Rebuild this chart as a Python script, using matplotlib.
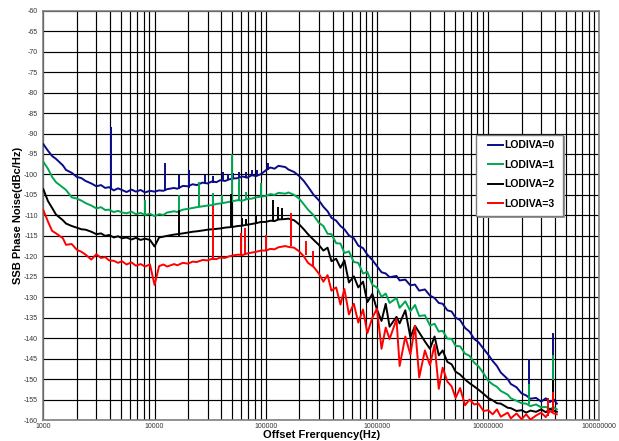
import numpy as np
import matplotlib.pyplot as plt
from matplotlib.patches import Rectangle
from matplotlib.ticker import LogLocator, NullFormatter

plt.rcParams['font.family'] = ['Liberation Sans', 'DejaVu Sans']
plt.rcParams['axes.unicode_minus'] = False

# measurement frequencies: E24 steps in each decade, last decade stops at the end of the sweep
mant = [1.0, 1.1, 1.2, 1.3, 1.5, 1.6, 1.8, 2.0, 2.2, 2.4, 2.7, 3.0,
        3.3, 3.6, 3.9, 4.3, 4.7, 5.1, 5.6, 6.2, 6.8, 7.5, 8.2, 9.1]
mant_last = [1.0, 1.1, 1.2, 1.3, 1.5, 1.6, 1.8, 2.0, 2.2, 2.4, 2.7, 3.0,
             3.3, 3.6, 3.9, 4.15]
freq = [m * 10 ** e for e in range(3, 7) for m in mant] + [m * 1e7 for m in mant_last]

# SSB phase noise, dBc/Hz
lodiva0 = [
    -92.6, -94.2, -95.5, -96.2, -97.8, -98.9, -99.6, -100.6, -100.9, -101.6, -102.2, -102.9,
    -102.6, -103.3, -103.1, -103.9, -103.4, -103.8, -104.3, -103.7, -104.2, -103.8, -104.4, -104.0,
    -104.2, -103.9, -104.0, -103.6, -103.3, -103.5, -102.8, -102.9, -102.4, -102.6, -102.0, -102.2,
    -101.7, -101.9, -101.4, -101.6, -101.2, -101.0, -100.9, -100.5, -100.8, -100.2, -100.4, -99.9,
    -99.0, -98.3, -98.6, -97.9, -98.2, -98.8, -99.4, -100.4, -101.6, -103.0, -105.0, -106.3,
    -107.9, -109.0, -110.6, -111.3, -112.6, -113.4, -114.9, -115.6, -117.4, -118.0, -119.6, -120.9,
    -122.4, -123.9, -124.2, -125.1, -124.8, -125.9, -125.7, -127.1, -126.9, -128.4, -128.1, -129.6,
    -130.2, -131.4, -131.6, -133.2, -133.5, -135.0, -135.6, -137.5, -138.4, -140.2, -141.0, -142.6,
    -144.0, -145.6, -146.8, -148.4, -150.0, -151.2, -152.0, -153.5, -154.0, -154.8, -154.6, -155.5,
    -154.7, -155.6, -155.0, -156.0,
]
lodiva1 = [
    -96.9, -98.6, -100.6, -101.9, -103.2, -103.8, -105.6, -105.9, -106.4, -107.0, -107.6, -108.3,
    -108.0, -108.7, -108.6, -109.2, -108.9, -109.3, -109.5, -109.1, -109.7, -109.4, -109.9, -109.6,
    -110.2, -109.7, -109.9, -109.3, -109.0, -109.2, -108.6, -108.4, -108.2, -108.0, -107.8, -107.6,
    -107.5, -107.2, -107.1, -106.9, -106.7, -106.5, -106.3, -106.4, -106.0, -105.9, -105.6, -105.4,
    -105.3, -104.8, -105.0, -104.5, -104.7, -104.4, -105.0, -105.9, -107.3, -108.6, -110.0, -111.8,
    -112.6, -114.5, -114.6, -116.8, -116.9, -119.2, -118.8, -121.4, -121.6, -124.2, -123.8, -127.0,
    -127.6, -129.9, -129.1, -131.4, -130.2, -132.6, -131.0, -133.4, -131.9, -134.6, -134.4, -136.9,
    -136.5, -138.4, -138.2, -140.1, -140.2, -141.9, -142.0, -143.8, -144.3, -146.0, -146.9, -148.6,
    -150.4, -151.3, -151.9, -152.9, -153.8, -154.7, -155.3, -155.9, -156.0, -156.6, -156.2, -156.9,
    -156.8, -157.3, -156.9, -157.4,
]
lodiva2 = [
    -103.6, -106.5, -108.2, -109.8, -111.2, -112.0, -112.6, -113.0, -113.4, -113.5, -114.0, -114.6,
    -114.4, -115.0, -114.8, -115.4, -115.1, -115.6, -115.4, -115.9, -115.5, -116.0, -115.7, -116.0,
    -117.6, -115.4, -115.2, -115.0, -114.7, -114.6, -114.4, -114.2, -114.0, -113.9, -113.7, -113.5,
    -113.4, -113.3, -113.2, -113.0, -112.9, -112.8, -112.6, -112.5, -112.3, -112.1, -111.9, -111.6,
    -111.6, -111.3, -111.4, -111.0, -110.9, -110.8, -111.2, -112.2, -113.4, -114.6, -116.0, -117.2,
    -118.6, -117.9, -121.2, -120.6, -122.8, -121.0, -126.4, -124.9, -127.6, -126.2, -131.2, -129.2,
    -133.0, -135.8, -131.6, -137.2, -134.8, -136.4, -133.2, -139.8, -137.0, -138.6, -140.8, -142.6,
    -139.6, -144.2, -143.0, -145.8, -146.4, -148.2, -148.9, -150.1, -151.0, -151.8, -152.6, -153.6,
    -154.6, -155.2, -155.9, -156.0, -157.0, -157.1, -157.8, -157.6, -158.2, -157.7, -158.0, -157.4,
    -158.1, -157.3, -157.7, -158.0,
]
lodiva3 = [
    -108.7, -111.5, -113.8, -114.4, -115.6, -117.2, -117.0, -118.4, -118.9, -119.6, -120.8, -119.5,
    -120.4, -120.2, -121.0, -121.1, -121.6, -121.2, -122.0, -121.5, -122.3, -121.9, -122.5, -122.0,
    -127.0, -122.4, -122.0, -122.5, -121.9, -122.2, -121.6, -121.8, -121.3, -121.4, -120.9, -121.0,
    -120.6, -120.7, -120.3, -120.4, -120.0, -119.8, -119.6, -119.7, -119.3, -119.1, -118.9, -118.6,
    -118.6, -118.2, -118.3, -117.8, -117.5, -117.7, -117.9, -118.8, -120.0, -121.6, -122.6, -124.2,
    -126.2, -124.6, -128.4, -127.6, -131.8, -128.0, -134.2, -131.6, -136.2, -133.0, -138.8, -135.0,
    -132.8, -142.6, -137.4, -140.2, -135.4, -146.8, -139.6, -144.0, -137.0, -149.6, -143.0, -146.6,
    -141.6, -152.4, -147.2, -150.6, -151.8, -154.6, -152.2, -156.4, -155.0, -156.2, -156.0, -157.8,
    -157.6, -158.6, -157.4, -159.2, -158.2, -159.6, -158.4, -159.8, -158.6, -159.9, -158.9, -158.2,
    -159.3, -157.8, -158.4, -158.6,
]

# discrete spurs: frequency (Hz), floor level, peak level (dBc/Hz)
spur0_f = [4100, 12300, 16500, 20600, 28300, 33500, 41200, 45500, 51000, 58000, 67000, 75000,
           83000, 104000, 23.5e6, 38.5e6]
spur0_lo = [-103.5, -104.0, -103.6, -103.3, -102.3, -102.0, -101.6, -101.4, -101.0, -100.9, -100.6,
            -100.4, -100.4, -98.8, -154.2, -155.2]
spur0_hi = [-88.5, -97.2, -100.2, -99.0, -100.1, -100.3, -99.3, -100.0, -99.6, -99.4, -99.5,
            -99.0, -98.9, -97.3, -145.0, -138.8]

spur1_f = [8270, 16700, 25000, 33300, 40500, 49700, 58000, 66500, 90000, 23.5e6, 38.5e6]
spur1_lo = [-109.6, -108.8, -108.0, -107.6, -107.2, -106.8, -106.6, -106.2, -105.6, -156.2, -157.1]
spur1_hi = [-106.3, -105.0, -101.8, -104.5, -105.1, -94.9, -101.0, -104.2, -102.1, -151.2, -144.1]

spur2_f = [16700, 49000, 61000, 67000, 82000, 116000, 130000, 139000, 38.5e6]
spur2_lo = [-115.0, -112.9, -112.4, -112.3, -111.9, -111.3, -111.0, -110.9, -157.5]
spur2_hi = [-108.7, -104.7, -110.7, -111.0, -110.2, -106.3, -107.9, -108.3, -150.2]

spur3_f = [33300, 59500, 64800, 100000, 168000, 232000, 268000, 34.5e6, 38.5e6]
spur3_lo = [-120.8, -119.8, -119.6, -118.6, -117.6, -119.8, -122.4, -158.9, -158.0]
spur3_hi = [-107.8, -114.3, -113.2, -114.8, -109.5, -116.3, -118.8, -154.7, -153.1]

labels = ['LODIVA=0', 'LODIVA=1', 'LODIVA=2', 'LODIVA=3']
colors = ['#0b0b8a', '#00a651', '#000000', '#ff0000']

x_ticks = [1e3, 1e4, 1e5, 1e6, 1e7, 1e8]
x_ticklabels = ['1000', '10000', '100000', '1000000', '10000000', '100000000']
y_ticks = list(range(-160, -55, 5))

fig = plt.figure(figsize=(6.19, 4.41), dpi=100)
ax = fig.add_axes([0.070, 0.0476, 0.8982, 0.9281])

traces = [
    (lodiva0, spur0_f, spur0_lo, spur0_hi),
    (lodiva1, spur1_f, spur1_lo, spur1_hi),
    (lodiva2, spur2_f, spur2_lo, spur2_hi),
    (lodiva3, spur3_f, spur3_lo, spur3_hi),
]
for (level, sf, slo, shi), lab, col in zip(traces, labels, colors):
    ax.plot(freq, level, color=col, lw=1.4, label=lab, zorder=3)
    ax.vlines(sf, slo, shi, color=col, lw=1.4, zorder=3)

ax.set_xscale('log')
ax.set_xlim(1e3, 1e8)
ax.set_ylim(-160, -60)
ax.set_xticks(x_ticks)
ax.set_xticklabels(x_ticklabels)
ax.xaxis.set_minor_locator(LogLocator(base=10, subs=np.arange(2, 10)))
ax.xaxis.set_minor_formatter(NullFormatter())
ax.set_yticks(y_ticks)
ax.set_yticklabels([str(v) for v in y_ticks])
ax.tick_params(axis='both', which='both', length=0, labelsize=5, colors='#333333')
ax.tick_params(axis='y', pad=3.8)
ax.tick_params(axis='x', pad=2)

ax.grid(True, which='both', axis='x', color='black', lw=0.85, zorder=1)
ax.grid(True, which='major', axis='y', color='black', lw=0.85, zorder=1)
for s in ax.spines.values():
    s.set_color('#808080')
    s.set_linewidth(1.2)

ax.set_xlabel('Offset Frerquency(Hz)', fontsize=8, fontweight='bold', va='center')
ax.xaxis.set_label_coords(0.5, -0.0375)
ax.set_ylabel('SSB Phase Noise(dBc/Hz)', fontsize=8, fontweight='bold', va='center')
ax.yaxis.set_label_coords(-0.046, 0.5)

# legend box with a thin drop shadow
ax.add_patch(Rectangle((0.7815, 0.4945), 0.1562, 0.1985, transform=ax.transAxes,
                       facecolor='#9a9a9a', edgecolor='none', zorder=4))
ax.add_patch(Rectangle((0.778, 0.4984), 0.1567, 0.1979, transform=ax.transAxes,
                       facecolor='white', edgecolor='#7a7a7a', lw=1.0, zorder=4.5))
leg = ax.legend(loc='upper left', bbox_to_anchor=(0.7998, 0.683), borderaxespad=0,
                prop={'weight': 'bold', 'size': 7.5}, frameon=False,
                handlelength=1.45, handletextpad=0.1, labelspacing=0.9, borderpad=0)
leg.set_zorder(5)

fig.savefig('out.png', dpi=100)
